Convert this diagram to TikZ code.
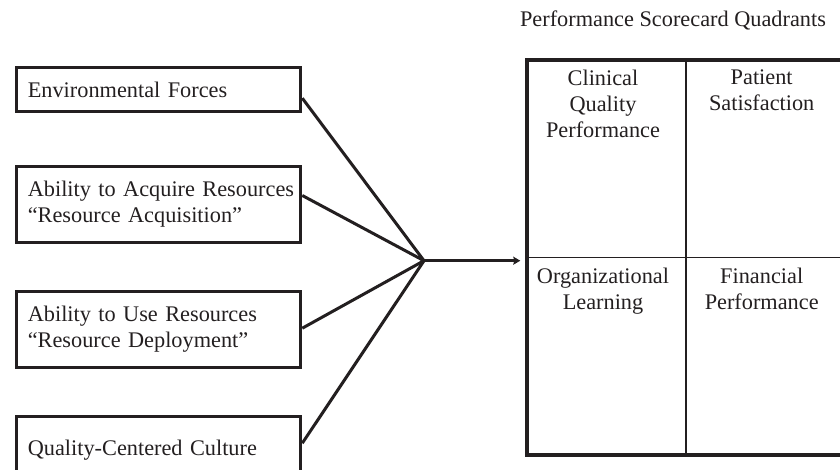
\documentclass[tikz,border=0pt]{standalone}
\usepackage{fontspec}
\setmainfont{Liberation Serif}
\usetikzlibrary{arrows.meta,calc}
\definecolor{ink}{HTML}{231F20}
\begin{document}
\begin{tikzpicture}[x=1pt,y=-1pt,
  every node/.style={font=\fontsize{22.3}{26}\selectfont, text=ink},
  factor/.style={draw=ink, line width=3pt, anchor=north west,
    minimum width=284pt, text width=262pt, inner xsep=11pt, inner ysep=0pt,
    align=left},
  quadlabel/.style={anchor=north, inner sep=0pt, align=center},
  conn/.style={draw=ink, line width=3pt, line join=miter},
  grid/.style={draw=ink, line width=1.7pt}]

% page frame
\path[use as bounding box, clip] (0,0) rectangle (840,469);

% the four factor boxes on the left
\node[factor, minimum height=43.4pt] (b1) at (15.3,66.3) {\mbox{Environmental Forces}};
\node[factor, minimum height=76.6pt] (b2) at (15.3,164.7)
  {\mbox{Ability to Acquire Resources}\\\mbox{``Resource Acquisition''}};
\node[factor, minimum height=76pt] (b3) at (15.3,289.7)
  {\mbox{Ability to Use Resources}\\\mbox{``Resource Deployment''}};
\node[factor, minimum height=66pt] (b4) at (15.3,415.3) {\mbox{Quality-Centered Culture}};

% scorecard grid
\node[draw=ink, line width=3.3pt, anchor=north west, minimum width=317.4pt,
  minimum height=395pt, inner sep=0pt] (Q) at (525.3,58.3) {};
\draw[grid] (Q.north) -- (Q.south);
\draw[grid] (Q.west) -- (Q.east);

\node[anchor=base] (title) at (673,26.7) {Performance Scorecard Quadrants};

\node[quadlabel] (q1) at (603,69.8) {Clinical\\Quality\\Performance};
\node[quadlabel] (q2) at (761.7,69.8) {Patient\\Satisfaction};
\node[quadlabel] (q3) at (603,268) {Organizational\\Learning};
\node[quadlabel] (q4) at (761.7,268) {Financial\\Performance};

% converging connectors
\coordinate (J) at (424,260.7);
\draw[conn] ([yshift=-8.7pt]b1.east) -- (J) -- ([yshift=6.6pt]b4.east);
\draw[conn] ([yshift=9pt]b2.east) -- (J) -- ([yshift=1pt]b3.east);
\draw[draw=ink, line width=2.6pt, shorten >=5pt,
  -{Stealth[length=7pt,width=8pt,inset=1pt]}] (J) -- (J -| Q.west);
\end{tikzpicture}
\end{document}
